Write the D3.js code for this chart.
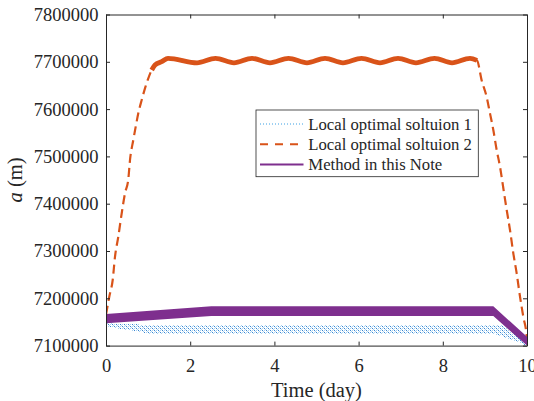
<!DOCTYPE html>
<html>
<head>
<meta charset="utf-8">
<script src="https://cdn.jsdelivr.net/npm/d3@7"></script>
<style>
  html, body { margin: 0; padding: 0; background: #fff; }
  svg { display: block; }
  svg text { font-family: "Liberation Serif", "Times New Roman", Tinos, "DejaVu Serif", "Noto Serif", serif !important; fill: #262626; }
</style>
</head>
<body>
<svg id="chart" width="534" height="401"></svg>
<script>
// Semi-major axis a (m) over time (day)
const xTicks = [0, 2, 4, 6, 8, 10];
const yTicks = [7100000, 7200000, 7300000, 7400000, 7500000, 7600000, 7700000, 7800000];

// Local optimal solution 1: oscillation envelope (upper / lower bounds)
const sol1Days  = [0, 0.45, 1.1, 9.2, 9.4, 10];
const sol1Upper = [7147000, 7146000, 7143500, 7143500, 7143500, 7108000];
const sol1Lower = [7140000, 7134000, 7124500, 7124500, 7120000, 7100000];

// Local optimal solution 2: mean trajectory
const sol2Days = [0, 0.078, 0.159, 0.214, 0.292, 0.373, 0.451, 0.53, 0.57, 0.648, 0.713, 0.767,
  0.848, 0.926, 1.005, 1.086, 1.164, 1.323, 1.473, 2.162, 2.601, 3.04, 3.468, 3.895, 4.335,
  4.774, 5.202, 5.629, 6.069, 6.508, 6.936, 7.363, 7.803, 8.219, 8.646, 8.812, 8.924, 9.043,
  9.121, 9.2, 9.28, 9.359, 9.437, 9.518, 9.596, 9.675, 9.755, 9.834, 9.912, 9.993, 10];
const sol2Values = [7165000, 7203400, 7238700, 7287900, 7330200, 7379700, 7422000, 7452000,
  7492400, 7534600, 7566400, 7591100, 7619200, 7643900, 7665100, 7682600, 7693200, 7700200,
  7707400, 7697900, 7707400, 7697900, 7707400, 7697900, 7707400, 7697900, 7707400, 7697900,
  7707400, 7697900, 7707400, 7697900, 7707400, 7697900, 7707400, 7702900, 7660600, 7625200,
  7591000, 7555800, 7513500, 7478200, 7433200, 7386600, 7344400, 7295100, 7252800, 7203400,
  7161100, 7118800, 7101300];
// index range where the fast oscillation fills the dashes into a solid band
const sol2Plateau = [15, 35];

// Method in this Note: oscillation envelope
const noteDays  = [0, 2.5, 9.2, 10];
const noteUpper = [7166800, 7183000, 7183000, 7118800];
const noteLower = [7147100, 7162600, 7162600, 7100000];

const legendLabels = ["Local optimal soltuion 1", "Local optimal soltuion 2", "Method in this Note"];
const colors = { sol1: "#3b86d2", sol1Light: "#a9d3f2", sol2: "#D95319", note: "#7E2F8E", axis: "#262626" };

const svg = d3.select("#chart");
const plotLeft = 106, plotRight = 527, plotTop = 14.5, plotBottom = 345.6;

const x = d3.scaleLinear().domain([0, 10]).range([plotLeft, plotRight]);
const y = d3.scaleLinear().domain([7100000, 7800000]).range([plotBottom, plotTop]);

const defs = svg.append("defs");
defs.append("clipPath").attr("id", "plot-clip")
  .append("rect").attr("x", plotLeft).attr("y", plotTop)
  .attr("width", plotRight - plotLeft).attr("height", plotBottom - plotTop);

// dotted texture of the first solution's band
const pat = defs.append("pattern").attr("id", "dots").attr("patternUnits", "userSpaceOnUse")
  .attr("width", 4).attr("height", 4);
[[0, 0], [2, 2]].forEach(([px, py]) =>
  pat.append("rect").attr("x", px).attr("y", py).attr("width", 1).attr("height", 1).attr("fill", colors.sol1));
[[2, 0], [0, 2], [1, 1], [3, 3]].forEach(([px, py]) =>
  pat.append("rect").attr("x", px).attr("y", py).attr("width", 1).attr("height", 1).attr("fill", colors.sol1Light));

const plot = svg.append("g").attr("clip-path", "url(#plot-clip)");

// Solution 1 band
const sol1Data = sol1Days.map((d, i) => ({ d, hi: sol1Upper[i], lo: sol1Lower[i] }));
plot.append("path").datum(sol1Data)
  .attr("d", d3.area().x(p => x(p.d)).y0(p => y(p.lo)).y1(p => y(p.hi)))
  .attr("fill", "url(#dots)").attr("shape-rendering", "crispEdges");

// Solution 2 curve
const sol2Data = sol2Days.map((d, i) => ({ d, v: sol2Values[i] }));
const line2 = d3.line().x(p => x(p.d)).y(p => y(p.v)).curve(d3.curveMonotoneX);
plot.append("path").datum(sol2Data).attr("d", line2)
  .attr("fill", "none").attr("stroke", colors.sol2).attr("stroke-width", 2.2)
  .attr("stroke-dasharray", "9,5");
plot.append("path").datum(sol2Data.slice(sol2Plateau[0], sol2Plateau[1] + 1)).attr("d", line2)
  .attr("fill", "none").attr("stroke", colors.sol2).attr("stroke-width", 4.8)
  .attr("stroke-linejoin", "round");

// Method band
const noteData = noteDays.map((d, i) => ({ d, hi: noteUpper[i], lo: noteLower[i] }));
plot.append("path").datum(noteData)
  .attr("d", d3.area().x(p => x(p.d)).y0(p => y(p.lo)).y1(p => y(p.hi)))
  .attr("fill", colors.note);

// Axes with inward ticks and a full box
const fontTick = "18.5px";
const gx = svg.append("g").attr("transform", `translate(0,${plotBottom})`)
  .call(d3.axisBottom(x).tickValues(xTicks).tickSizeInner(-4).tickSizeOuter(0).tickPadding(13));
const gy = svg.append("g").attr("transform", `translate(${plotLeft},0)`)
  .call(d3.axisLeft(y).tickValues(yTicks).tickFormat(d3.format("d")).tickSizeInner(-4).tickSizeOuter(0).tickPadding(7.5));
const gxTop = svg.append("g").attr("transform", `translate(0,${plotTop})`)
  .call(d3.axisTop(x).tickValues(xTicks).tickSizeInner(-4).tickSizeOuter(0).tickFormat(""));
const gyRight = svg.append("g").attr("transform", `translate(${plotRight},0)`)
  .call(d3.axisRight(y).tickValues(yTicks).tickSizeInner(-4).tickSizeOuter(0).tickFormat(""));
[gx, gy, gxTop, gyRight].forEach(g => {
  g.attr("font-family", null);
  g.select(".domain").attr("stroke", colors.axis).attr("stroke-width", 1);
  g.selectAll(".tick line").attr("stroke", colors.axis).attr("stroke-width", 1);
  g.selectAll(".tick text").attr("font-size", fontTick).attr("fill", colors.axis);
});

// Axis titles
svg.append("text").attr("x", (plotLeft + plotRight) / 2).attr("y", 396.5)
  .attr("text-anchor", "middle").attr("font-size", "20.5px").text("Time (day)");
const yl = svg.append("text").attr("transform", "translate(21.5,180) rotate(-90)")
  .attr("text-anchor", "middle").attr("font-size", "20.5px");
yl.append("tspan").attr("font-style", "italic").text("a");
yl.append("tspan").text(" (m)");

// Legend
const lg = svg.append("g");
lg.append("rect").attr("x", 256).attr("y", 110).attr("width", 222.3).attr("height", 66.7)
  .attr("fill", "#fff").attr("stroke", colors.axis).attr("stroke-width", 0.8);
const rows = [124, 144.3, 164.6];
const legendStyles = [
  { stroke: "#3aa0e4", width: 1, dash: "1,2" },
  { stroke: colors.sol2, width: 2, dash: "8,7" },
  { stroke: colors.note, width: 2, dash: null }
];
legendLabels.forEach((lab, i) => {
  const s = legendStyles[i];
  const ln = lg.append("line").attr("x1", 260).attr("x2", 303.5).attr("y1", rows[i]).attr("y2", rows[i])
    .attr("stroke", s.stroke).attr("stroke-width", s.width);
  if (s.dash) ln.attr("stroke-dasharray", s.dash);
  lg.append("text").attr("x", 308.3).attr("y", rows[i] + 5.6).attr("font-size", "16.7px").text(lab);
});
</script>
</body>
</html>
